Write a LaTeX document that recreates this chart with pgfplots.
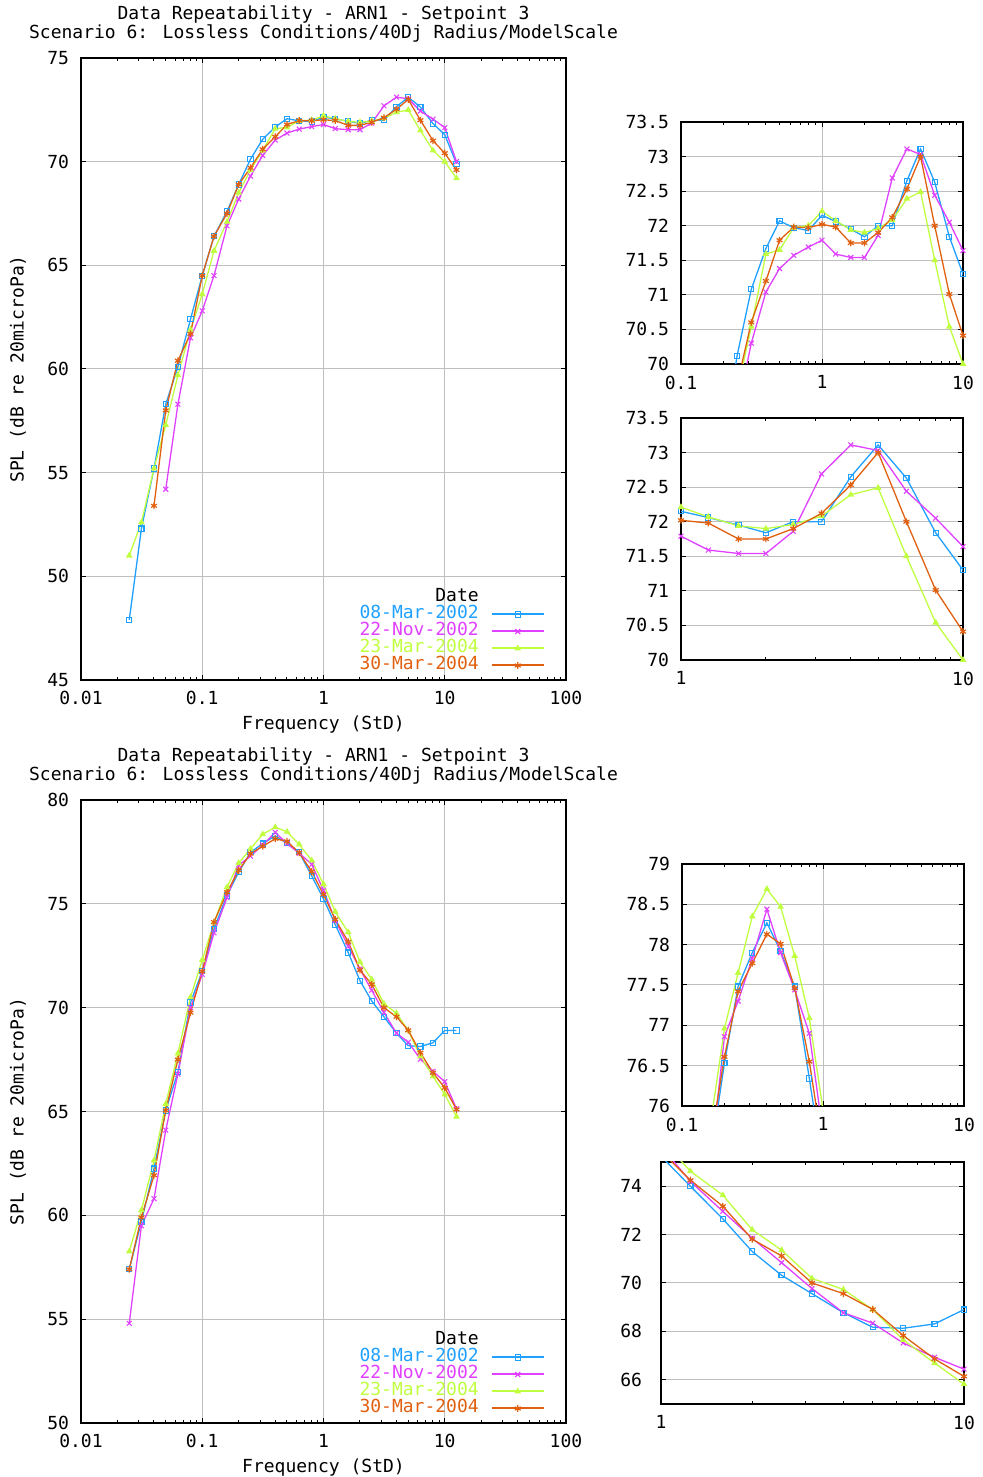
\documentclass[border=0pt]{standalone}
\usepackage{fontspec}
\setmainfont{DejaVu Sans Mono}
\usepackage{pgfplots}
\usepackage{pgfplotstable}
\pgfplotsset{compat=1.18}
\definecolor{cA}{RGB}{32,160,255}
\definecolor{cB}{RGB}{224,64,255}
\definecolor{cC}{RGB}{192,255,64}
\definecolor{cD}{RGB}{224,96,16}

\pgfplotstableread{
f a b c d
0.025 47.9 nan 51.0 nan
0.0315 52.3 nan 52.6 nan
0.04 55.2 nan 55.2 53.4
0.05 58.3 54.2 57.3 58.0
0.063 60.1 58.3 59.7 60.4
0.08 62.4 61.5 61.9 61.7
0.1 64.5 62.8 63.6 64.5
0.125 66.4 64.5 65.7 66.4
0.16 67.6 66.9 67.1 67.5
0.2 68.9 68.2 68.5 68.9
0.25 70.12 69.3 69.6 69.7
0.315 71.08 70.3 70.54 70.6
0.4 71.67 71.04 71.59 71.2
0.5 72.07 71.38 71.65 71.79
0.63 71.97 71.57 71.97 71.98
0.8 71.93 71.69 72.0 71.97
1 72.15 71.79 72.21 72.02
1.25 72.06 71.59 72.07 71.98
1.6 71.95 71.54 71.94 71.75
2 71.84 71.54 71.9 71.75
2.5 72.0 71.86 71.96 71.9
3.15 72.0 72.69 72.08 72.12
4 72.65 73.11 72.39 72.53
5 73.11 73.03 72.49 73.0
6.3 72.63 72.44 71.5 72.0
8 71.84 72.05 70.54 71.01
10 71.3 71.64 70.0 70.41
12.5 69.9 70.0 69.2 69.6
}\topdata

\pgfplotstableread{
f a b c d
0.025 57.4 54.8 58.26 57.4
0.0315 59.7 59.5 60.25 59.9
0.04 62.25 60.8 62.64 61.93
0.05 65.05 64.1 65.37 65.05
0.063 66.9 66.8 67.8 67.5
0.08 70.25 70.0 70.5 69.76
0.1 71.75 71.6 72.3 71.75
0.125 73.8 73.6 74.1 74.12
0.16 75.4 75.3 75.8 75.56
0.2 76.53 76.86 76.96 76.61
0.25 77.48 77.3 77.65 77.42
0.315 77.9 77.83 78.35 77.77
0.4 78.27 78.44 78.69 78.13
0.5 77.92 77.9 78.47 78.01
0.63 77.48 77.44 77.86 77.46
0.8 76.34 76.9 77.09 76.55
1 75.24 75.65 75.95 75.45
1.25 74.0 74.2 74.62 74.25
1.6 72.65 72.96 73.63 73.17
2 71.3 71.85 72.2 71.81
2.5 70.32 70.84 71.36 71.12
3.15 69.56 69.77 70.19 70.0
4 68.77 68.77 69.73 69.56
5 68.17 68.34 68.9 68.91
6.3 68.13 67.52 67.65 67.83
8 68.31 66.93 66.69 66.86
10 68.9 66.44 65.82 66.14
12.5 68.9 65.13 64.75 65.1
}\botdata

\tikzset{
  sA/.style={color=cA, line width=0.65pt, mark=square, mark size=1.3pt, mark options={solid, line width=0.55pt}},
  sB/.style={color=cB, line width=0.65pt, mark=x, mark size=1.7pt, mark options={solid, line width=0.55pt}},
  sC/.style={color=cC, line width=0.65pt, mark=triangle*, mark size=1.4pt, mark options={solid, line width=0.55pt}},
  sD/.style={color=cD, line width=0.65pt, mark=asterisk, mark size=1.7pt, mark options={solid, line width=0.6pt}},
}
\pgfplotsset{
  gp/.style={scale only axis,
    axis line style={line width=0.7pt},
    grid=major, major grid style={black!25, line width=0.5pt},
    tick style={black, line width=0.5pt},
    major tick length=2.5pt, minor tick length=1.5pt,
    tick align=inside, tick pos=both,
    ticklabel style={font=\fontsize{9}{9}\selectfont},
    /pgf/number format/assume math mode=true,
    yticklabel style={xshift=-2.5pt},
    xticklabel style={yshift=-2pt}},
  mainax/.style={gp, width=242.5pt,
    xmin=0.01, xmax=100,
    xtick={0.01,0.1,1,10,100}, xticklabels={0.01,0.1,1,10,100},
    minor xtick={0.02,0.03,0.04,0.05,0.06,0.07,0.08,0.09,0.2,0.3,0.4,0.5,0.6,0.7,0.8,0.9,2,3,4,5,6,7,8,9,20,30,40,50,60,70,80,90},
    title style={at={(axis description cs:0.5,1)}, anchor=center, yshift=11pt, align=center, font=\fontsize{9}{8.5}\selectfont},
    every axis x label/.style={at={(axis description cs:0.5,-0.072)}, anchor=center, font=\fontsize{9}{9}\selectfont},
    every axis y label/.style={at={(axis description cs:-0.13,0.5)}, anchor=center, rotate=90, font=\fontsize{9}{9}\selectfont},
    xlabel={Frequency (StD)}, ylabel={SPL (dB re 20microPa)},
    legend style={draw=none, fill=none, at={(axis description cs:0.957,0.009)}, anchor=south east,
      font=\fontsize{9}{9}\selectfont, inner sep=0pt, row sep=0pt, column sep=6pt,
      nodes={inner sep=0pt, text height=6.5pt, text depth=2pt}},
    legend plot pos=right, legend cell align=right,
  },
  insA/.style={gp, width=141pt, height=121pt, xmin=0.1, xmax=10,
    xtick={0.1,1,10}, xticklabels={0.1,1,10},
    minor xtick={0.2,0.3,0.4,0.5,0.6,0.7,0.8,0.9,2,3,4,5,6,7,8,9},
    xticklabel style={yshift=-0.4pt}},
  insB/.style={gp, height=121pt, xmin=1, xmax=10,
    xtick={1,10}, xticklabels={1,10},
    minor xtick={2,3,4,5,6,7,8,9},
    xticklabel style={yshift=-0.4pt}},
}

\begin{document}
\begin{tikzpicture}
\useasboundingbox (0,0) rectangle (491pt,738.5pt);

% ---------- top main ----------
\begin{axis}[xmode=log, mainax, at={(40.5pt,398.5pt)}, anchor=south west, height=311pt,
  ymin=45, ymax=75, ytick={45,50,...,75},
  legend image code/.code={\draw[#1,line width=1pt] (0pt,0pt) -- (26pt,0pt); \draw[#1,only marks] plot coordinates {(13pt,0pt)};},
  title={Data Repeatability - ARN1 - Setpoint 3\\Scenario 6: Lossless Conditions/40Dj Radius/ModelScale}]
\addlegendimage{empty legend}\addlegendentry{Date}
\addplot[sA] table[x=f,y=a]{\topdata}; \addlegendentry{\textcolor{cA}{08-Mar-2002}}
\addplot[sB] table[x=f,y=b]{\topdata}; \addlegendentry{\textcolor{cB}{22-Nov-2002}}
\addplot[sC] table[x=f,y=c]{\topdata}; \addlegendentry{\textcolor{cC}{23-Mar-2004}}
\addplot[sD] table[x=f,y=d]{\topdata}; \addlegendentry{\textcolor{cD}{30-Mar-2004}}
\end{axis}

% ---------- top inset 1 ----------
\begin{axis}[xmode=log, insA, at={(340.5pt,556.5pt)}, anchor=south west,
  ymin=70, ymax=73.5, ytick={70,70.5,...,73.5}]
\addplot[sA] table[x=f,y=a]{\topdata};
\addplot[sB] table[x=f,y=b]{\topdata};
\addplot[sC] table[x=f,y=c]{\topdata};
\addplot[sD] table[x=f,y=d]{\topdata};
\end{axis}

% ---------- top inset 2 ----------
\begin{axis}[xmode=log, insB, width=141pt, at={(340.5pt,408.5pt)}, anchor=south west,
  ymin=70, ymax=73.5, ytick={70,70.5,...,73.5}]
\addplot[sA] table[x=f,y=a]{\topdata};
\addplot[sB] table[x=f,y=b]{\topdata};
\addplot[sC] table[x=f,y=c]{\topdata};
\addplot[sD] table[x=f,y=d]{\topdata};
\end{axis}

% ---------- bottom main ----------
\begin{axis}[xmode=log, mainax, at={(40.5pt,27pt)}, anchor=south west, height=311.5pt,
  ymin=50, ymax=80, ytick={50,55,...,80},
  legend image code/.code={\draw[#1,line width=1pt] (0pt,0pt) -- (26pt,0pt); \draw[#1,only marks] plot coordinates {(13pt,0pt)};},
  title={Data Repeatability - ARN1 - Setpoint 3\\Scenario 6: Lossless Conditions/40Dj Radius/ModelScale}]
\addlegendimage{empty legend}\addlegendentry{Date}
\addplot[sA] table[x=f,y=a]{\botdata}; \addlegendentry{\textcolor{cA}{08-Mar-2002}}
\addplot[sB] table[x=f,y=b]{\botdata}; \addlegendentry{\textcolor{cB}{22-Nov-2002}}
\addplot[sC] table[x=f,y=c]{\botdata}; \addlegendentry{\textcolor{cC}{23-Mar-2004}}
\addplot[sD] table[x=f,y=d]{\botdata}; \addlegendentry{\textcolor{cD}{30-Mar-2004}}
\end{axis}

% ---------- bottom inset 1 ----------
\begin{axis}[xmode=log, insA, at={(341pt,185.5pt)}, anchor=south west,
  ymin=76, ymax=79, ytick={76,76.5,...,79}]
\addplot[sA] table[x=f,y=a]{\botdata};
\addplot[sB] table[x=f,y=b]{\botdata};
\addplot[sC] table[x=f,y=c]{\botdata};
\addplot[sD] table[x=f,y=d]{\botdata};
\end{axis}

% ---------- bottom inset 2 ----------
\begin{axis}[xmode=log, insB, width=151.5pt, at={(330.5pt,36.5pt)}, anchor=south west,
  ymin=65, ymax=75, ytick={66,68,70,72,74}, yticklabel style={xshift=-3.5pt}]
\addplot[sA] table[x=f,y=a]{\botdata};
\addplot[sB] table[x=f,y=b]{\botdata};
\addplot[sC] table[x=f,y=c]{\botdata};
\addplot[sD] table[x=f,y=d]{\botdata};
\end{axis}
\end{tikzpicture}
\end{document}
